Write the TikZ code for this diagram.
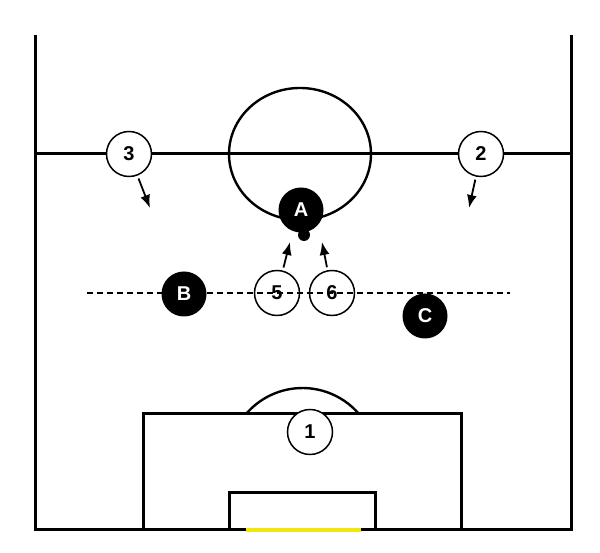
\documentclass[tikz,border=0pt]{standalone}
\usepackage{fontspec}
\setmainfont{Liberation Sans}
\usepackage{tikz}
\usetikzlibrary{arrows.meta}

\begin{document}
\begin{tikzpicture}[x=1pt,y=1pt,
    pitch/.style={line width=3pt},
    own/.style={circle,draw,line width=1.5pt,fill=white,minimum size=45pt,inner sep=0pt,font=\fontsize{20}{20}\selectfont\bfseries},
    opp/.style={circle,fill=black,text=white,minimum size=45pt,inner sep=0pt,font=\fontsize{20}{20}\selectfont\bfseries},
    run/.style={line width=1.8pt,-{Latex[length=13pt,width=10pt]},shorten <=3pt}]

    \useasboundingbox (0,0) rectangle (600,553);

    % pitch
    \draw[pitch] (35,518) -- (35,23) -- (571,23) -- (571,518);
    \draw[pitch] (35,399) -- (571,399); % halfway line
    \draw[line width=2.4pt] (300,399) ellipse [x radius=71, y radius=66];
    \draw[pitch] (143,23) rectangle (461,139); % penalty box
    \draw[pitch] (229,23) rectangle (375,60); % goal area
    \draw[line width=2.4pt] (359,139) arc[start angle=40.6, end angle=139.4, radius=74.4];
    \fill (303,101) circle (1.8);
    \draw[line width=3.5pt,yellow!90!black!60!yellow] (246,23) -- (361,23); % goal

    % nodes (players)
    \node[own] (p3) at (129,399) {3};
    \node[own] (p2) at (481,399) {2};
    \node[opp] (pA) at (301,343) {A};
    \node[circle,fill=black,minimum size=12pt,inner sep=0pt] (ball) at (304,318) {};
    \node[own] (p5) at (277,260) {5};
    \node[own] (p6) at (332,260) {6};
    \draw[line width=1.4pt,dash pattern=on 6pt off 4pt] (87,260) -- (510,260); % line of 5 and 6
    \node[opp] (pB) at (184,259) {B};
    \node[opp] (pC) at (425,237) {C};
    \node[own] (p1) at (310,121) {1};

    \coordinate (t3) at (150,345);
    \coordinate (t2) at (469,345);
    \coordinate (t5) at (290,311);
    \coordinate (t6) at (322,311);

    % edges
    \draw[run] (p3) -- (t3); % 3 -> in
    \draw[run] (p2) -- (t2); % 2 -> in
    \draw[run] (p5) -- (t5); % 5 -> ball
    \draw[run] (p6) -- (t6); % 6 -> ball

\end{tikzpicture}
\end{document}
